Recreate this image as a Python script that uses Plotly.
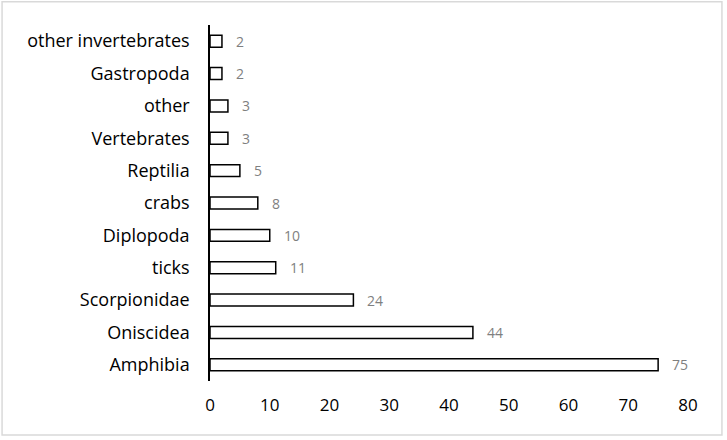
import plotly.graph_objects as go

categories = ["Amphibia", "Oniscidea", "Scorpionidae", "ticks", "Diplopoda", "crabs",
              "Reptilia", "Vertebrates", "other", "Gastropoda", "other invertebrates"]
values = [75, 44, 24, 11, 10, 8, 5, 3, 3, 2, 2]
x_ticks = [0, 10, 20, 30, 40, 50, 60, 70, 80]

fig = go.Figure()
fig.add_trace(go.Bar(
    x=values, y=categories, orientation="h",
    marker=dict(color="white", line=dict(color="black", width=1.5)),
    width=0.37, showlegend=False, hoverinfo="skip",
))
for c, v in zip(categories, values):
    fig.add_annotation(x=v, y=c, text=str(v), showarrow=False, xanchor="left",
                       xshift=12, font=dict(family="Open Sans", size=14, color="#7f7f7f"))

fig.update_layout(
    width=727, height=440,
    margin=dict(l=210, r=39, t=25, b=59),
    paper_bgcolor="white", plot_bgcolor="white",
    font=dict(family="Open Sans", size=17, color="black"),
    xaxis=dict(range=[0, 80], tickvals=x_ticks, showgrid=False, zeroline=False,
               showline=False, ticks="", ticklabelstandoff=12, fixedrange=True),
    yaxis=dict(showgrid=False, zeroline=False, showline=True, linecolor="black",
               linewidth=1.5, ticks="", ticklabelstandoff=15, fixedrange=True,
               tickfont=dict(size=18)),
    shapes=[dict(type="rect", xref="paper", yref="paper", x0=-0.435, x1=1.071,
                 y0=-0.152, y1=1.065, line=dict(color="#d9d9d9", width=1.5))],
)
fig.write_html("out.html")
